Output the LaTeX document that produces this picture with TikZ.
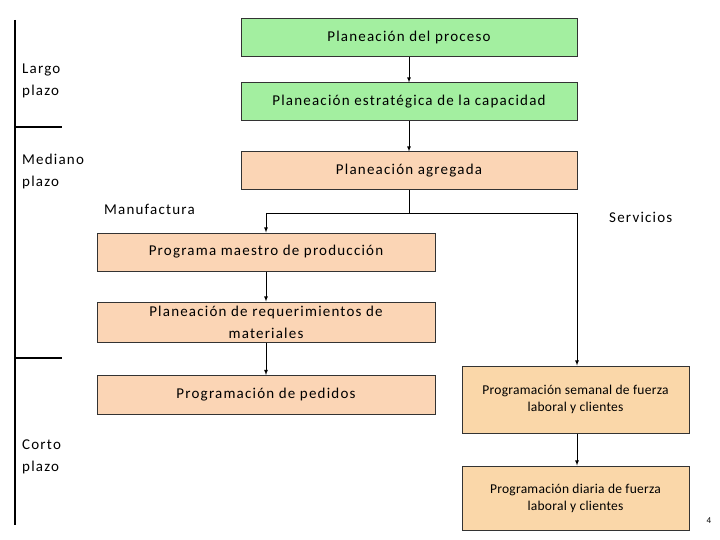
\documentclass[tikz,border=0pt]{standalone}
\usepackage{fontspec}
\setmainfont[LetterSpace=8]{Carlito}
\newfontfamily\smallf[LetterSpace=2]{Carlito}
\begin{document}
\begin{tikzpicture}[x=1pt,y=-1pt,
 arr/.style={-latex,line width=0.8pt},
 lbl/.style={font=\fontsize{15}{22}\selectfont,align=left,anchor=north west,inner sep=0pt},
 txt/.style={font=\fontsize{15}{22}\selectfont,align=center},
 stxt/.style={font=\smallf\fontsize{13.5}{17}\selectfont,align=center}]
\useasboundingbox (0,0) rectangle (720,540);
\definecolor{gfill}{HTML}{A3EFA0}
\definecolor{pfill}{HTML}{FBD5B5}
\definecolor{sfill}{HTML}{FAD7A9}
\tikzset{bx/.style={draw=black!80,line width=1pt}}
\node[bx,fill=gfill,minimum width=336pt,minimum height=38pt,txt] (p1) at (409,38) {\raisebox{-2pt}{Planeación del proceso}};
\node[bx,fill=gfill,minimum width=336pt,minimum height=38pt,txt] (p2) at (409,102) {\raisebox{-3pt}{Planeación estratégica de la capacidad}};
\node[bx,fill=pfill,minimum width=336pt,minimum height=38pt,txt] (p3) at (409,171) {\raisebox{-2pt}{Planeación agregada}};
\node[bx,fill=pfill,minimum width=338pt,minimum height=38pt,txt] (m1) at (266,252) {\raisebox{-1pt}{Programa maestro de producción}};
\node[bx,fill=pfill,minimum width=338pt,minimum height=40pt,txt] (m2) at (266,322) {Planeación de requerimientos de\\materiales};
\node[bx,fill=pfill,minimum width=338pt,minimum height=39pt,txt] (m3) at (266,395) {\raisebox{-1pt}{Programación de pedidos}};
\node[bx,fill=sfill,minimum width=227pt,minimum height=67pt,stxt] (s1) at (575.5,399.5) {\raisebox{3pt}{\shortstack{Programación semanal de fuerza\\[2pt]laboral y clientes}}};
\node[bx,fill=sfill,minimum width=227pt,minimum height=64pt,stxt] (s2) at (575.5,498) {Programación diaria de fuerza\\laboral y clientes};
\coordinate (j) at (409,213);
\coordinate (jl) at (266,213);
\coordinate (jr) at (577,213);
\draw[arr] (p1) -- (p2);
\draw[arr] (p2) -- (p3);
\draw[line width=0.8pt] (p3) -- (j);
\draw[line width=0.8pt] (jl) -- (jr);
\draw[arr] (jl) -- (m1.north -| jl);
\draw[arr] (jr) -- (s1.north -| jr);
\draw[arr] (m1) -- (m2);
\draw[arr] (m2) -- (m3);
\draw[arr] (s1.south -| jr) -- (s2.north -| jr);
\coordinate (t) at (15,20); \coordinate (b) at (15,525);
\coordinate (t1) at (62,127); \coordinate (t2) at (62,358);
\draw[line width=1.2pt] (t) -- (b);
\draw[line width=1.2pt] (t1 -| t) -- (t1);
\draw[line width=1.2pt] (t2 -| t) -- (t2);
\node[lbl] (l1) at (22,64) {Largo\\plazo};
\node[lbl] (l2) at (22,154) {Mediano\\ plazo};
\node[lbl] (l3) at (22,440) {Corto\\plazo};
\node[lbl] (mf) at (104,204) {Manufactura};
\node[lbl] (sv) at (609,212) {Servicios};
\node[font=\fontsize{9}{10}\selectfont] (n4) at (709,521) {4};
\end{tikzpicture}
\end{document}
